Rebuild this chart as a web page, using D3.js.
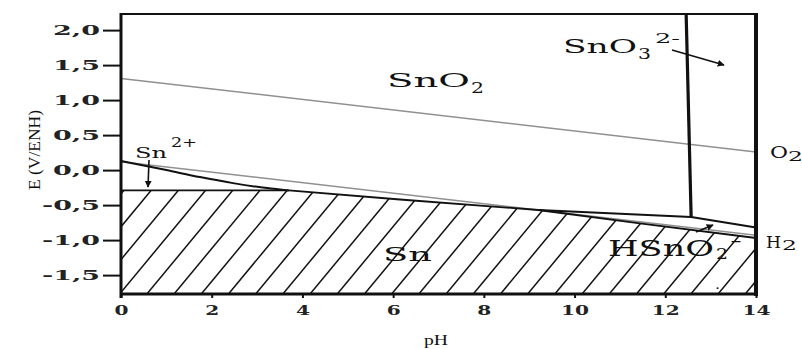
<!DOCTYPE html>
<html><head><meta charset="utf-8">
<script src="https://cdn.jsdelivr.net/npm/d3@7"></script>
<style>html,body{margin:0;padding:0;background:#fff;}svg{display:block;}</style>
</head><body>
<svg id="c" width="802" height="349"></svg>
<script>
const phTicks = [0, 2, 4, 6, 8, 10, 12, 14];
const eTicks = [-1.5, -1.0, -0.5, 0.0, 0.5, 1.0, 1.5, 2.0];
const o2Ph = [0, 14], o2E = [1.31, 0.26];
const h2Ph = [0, 14], h2E = [0.12, -0.93];
const snTopPh = [0, 3.7, 6.15, 9.2, 11.44, 14];
const snTopE  = [-0.29, -0.29, -0.42, -0.57, -0.76, -0.97];
const sn2Ph = [0, 1.0, 1.74, 2.47, 3.22, 3.7];
const sn2E  = [0.13, 0.0, -0.10, -0.186, -0.257, -0.29];
const hsnPh = [9.2, 12.57, 14];
const hsnE  = [-0.57, -0.67, -0.82];
const sno3Ph = [12.46, 12.57];
const sno3E  = [2.23, -0.67];

const svg = d3.select("#c");
const x = d3.scaleLinear().domain([0, 14]).range([121, 756]);
const y = d3.scaleLinear().domain([-1.77, 2.23]).range([294, 14]);
const zip = (a, b) => a.map((v, i) => [v, b[i]]);
const line = d3.line().x(d => x(d[0])).y(d => y(d[1]));

// markers
const defs = svg.append("defs");
defs.append("marker").attr("id", "arr").attr("viewBox", "0 0 10 10")
  .attr("refX", 9).attr("refY", 5).attr("markerWidth", 7).attr("markerHeight", 7)
  .attr("orient", "auto-start-reverse").attr("markerUnits", "userSpaceOnUse")
  .append("path").attr("d", "M0,0L10,5L0,10z").attr("fill", "#111");

// Sn region (hatched)
const snPoly = zip(snTopPh, snTopE).concat([[14, -1.77], [0, -1.77]]);
defs.append("clipPath").attr("id", "snclip").append("path")
  .attr("d", line(snPoly) + "Z");
const hatch = svg.append("g").attr("clip-path", "url(#snclip)");
const spacing = 27.2, rise = 280, run = 232;
for (let xb = 118 - 12 * spacing; xb < 770; xb += spacing) {
  hatch.append("line").attr("x1", xb).attr("y1", y(-1.77) + 2)
    .attr("x2", xb + run).attr("y2", y(-1.77) + 2 - rise)
    .attr("stroke", "#111").attr("stroke-width", 1.5);
}

// water lines (gray)
[[o2Ph, o2E], [h2Ph, h2E]].forEach(([p, e]) => {
  svg.append("path").attr("d", line(zip(p, e))).attr("fill", "none")
    .attr("stroke", "#909090").attr("stroke-width", 1.5);
});

// boundaries
svg.append("path").attr("d", line(zip(snTopPh, snTopE))).attr("fill", "none")
  .attr("stroke", "#111").attr("stroke-width", 1.8);
svg.append("path").attr("d", line.curve(d3.curveMonotoneX)(zip(sn2Ph, sn2E))).attr("fill", "none")
  .attr("stroke", "#111").attr("stroke-width", 2);
line.curve(d3.curveLinear);
svg.append("path").attr("d", line(zip(hsnPh, hsnE))).attr("fill", "none")
  .attr("stroke", "#111").attr("stroke-width", 2.2);
svg.append("path").attr("d", line(zip(sno3Ph, sno3E))).attr("fill", "none")
  .attr("stroke", "#111").attr("stroke-width", 3.2);

// axes
const fmt = v => d3.format(".1f")(v).replace(".", ",").replace("\u2212", "-");
const yAx = svg.append("g").attr("transform", `translate(${x(0)},0)`)
  .call(d3.axisLeft(y).tickValues(eTicks).tickSize(18).tickPadding(3).tickFormat(fmt));
yAx.select(".domain").remove();
yAx.selectAll("line").attr("stroke", "#111").attr("stroke-width", 2);
yAx.selectAll("text").each(function () {
  const t = d3.select(this), w = t.text().length > 3 ? 58 : 47;
  t.attr("x", -21 - w).attr("text-anchor", "start").attr("textLength", w)
   .attr("lengthAdjust", "spacingAndGlyphs");
}).attr("font-family", "DejaVu Serif").attr("font-weight", "bold")
  .attr("font-size", 13).attr("fill", "#222");

const xAx = svg.append("g").attr("transform", `translate(0,${y(-1.77)})`)
  .call(d3.axisBottom(x).tickValues(phTicks).tickSize(4).tickPadding(8));
xAx.select(".domain").remove();
xAx.selectAll("line").attr("stroke", "#111").attr("stroke-width", 2);
xAx.selectAll("text").each(function () {
  const t = d3.select(this), w = t.text().length > 1 ? 28 : 14;
  t.attr("x", -w / 2).attr("text-anchor", "start").attr("textLength", w)
   .attr("lengthAdjust", "spacingAndGlyphs");
}).attr("font-family", "DejaVu Serif").attr("font-weight", "bold")
  .attr("font-size", 12).attr("fill", "#222");

// frame
const frame = svg.append("g").attr("stroke", "#111");
frame.append("line").attr("x1", x(0)).attr("x2", x(0)).attr("y1", y(2.23) - 1).attr("y2", y(-1.77) + 4).attr("stroke-width", 3);
frame.append("line").attr("x1", x(0)).attr("x2", x(14) + 2).attr("y1", y(-1.77)).attr("y2", y(-1.77)).attr("stroke-width", 3);
frame.append("line").attr("x1", x(0)).attr("x2", x(14)).attr("y1", y(2.23)).attr("y2", y(2.23)).attr("stroke-width", 2.2);
frame.append("line").attr("x1", x(14)).attr("x2", x(14)).attr("y1", y(2.23) - 1).attr("y2", y(-1.77) + 2).attr("stroke-width", 4);

// text helper: stretched serif text
function txt(s, x0, x1, base, size, fam, weight) {
  return svg.append("text").attr("x", x0).attr("y", base).text(s)
    .attr("font-family", fam || "DejaVu Serif").attr("font-size", size)
    .attr("font-weight", weight || "normal").attr("fill", "#111")
    .attr("textLength", x1 - x0).attr("lengthAdjust", "spacingAndGlyphs");
}
// axis titles
txt("pH", 424, 448, 345, 14, "Liberation Serif");
svg.append("text").attr("transform", "translate(40,150) rotate(-90)")
  .attr("x", -40).attr("font-family", "Liberation Serif")
  .attr("font-size", 17).attr("fill", "#111").attr("textLength", 80)
  .attr("lengthAdjust", "spacingAndGlyphs").text("E (V/ENH)");

// species labels
txt("SnO", 387, 470, 87, 19); txt("2", 471, 484, 93, 14);
txt("SnO", 563, 637, 53, 18); txt("3", 638, 651, 59, 14); txt("2-", 655, 680, 43, 13);
txt("O", 770, 788, 158, 16); txt("2", 788, 803, 161, 12);
txt("H", 766, 781, 248, 17); txt("2", 782, 797, 250, 12);
txt("Sn", 135, 167, 158, 15); txt("2+", 171, 197, 147, 12);
txt("Sn", 383, 432, 261, 19);
txt("HSnO", 608, 714, 256, 23); txt("2", 716, 728, 259, 15); txt("-", 730, 742, 246, 15);
txt(".", 715, 720, 289, 12);

// arrows
const arrows = [[[672, 50], [724, 65]], [[149, 160], [148, 187]], [[696, 232], [713, 225]]];
arrows.forEach(a => svg.append("line").attr("x1", a[0][0]).attr("y1", a[0][1])
  .attr("x2", a[1][0]).attr("y2", a[1][1]).attr("stroke", "#111").attr("stroke-width", 1.6)
  .attr("marker-end", "url(#arr)"));
</script>
</body></html>
